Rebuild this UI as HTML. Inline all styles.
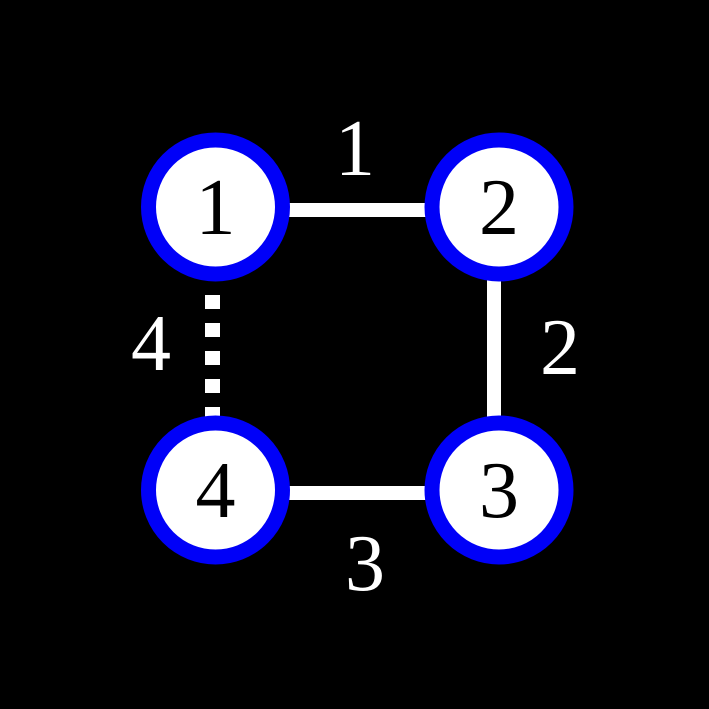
<!DOCTYPE html>
<html><head><meta charset="utf-8"><style>html,body{margin:0;padding:0;background:#000}svg{display:block}</style></head>
<body>
<svg width="709" height="709" viewBox="0 0 709 709">
<rect width="709" height="709" fill="#000"/>
<line x1="215" y1="210" x2="499" y2="210" stroke="#fff" stroke-width="14"/>
<line x1="494" y1="207" x2="494" y2="490" stroke="#fff" stroke-width="14"/>
<line x1="215" y1="493" x2="499" y2="493" stroke="#fff" stroke-width="14"/>
<line x1="212.5" y1="281" x2="212.5" y2="418" stroke="#fff" stroke-width="15" stroke-dasharray="14 14" stroke-dashoffset="14"/>
<g font-family="'Liberation Serif', serif" font-size="80" text-anchor="middle">
<g><circle cx="215.5" cy="207" r="67" fill="#fff" stroke="#0000f8" stroke-width="15"/><text x="215.5" y="234" fill="#000">1</text></g>
<g><circle cx="499" cy="207" r="67" fill="#fff" stroke="#0000f8" stroke-width="15"/><text x="499" y="234" fill="#000">2</text></g>
<g><circle cx="499" cy="490" r="67" fill="#fff" stroke="#0000f8" stroke-width="15"/><text x="499" y="517" fill="#000">3</text></g>
<g><circle cx="215.5" cy="490" r="67" fill="#fff" stroke="#0000f8" stroke-width="15"/><text x="215.5" y="517" fill="#000">4</text></g>
<text x="355" y="175" fill="#fff">1</text>
<text x="560" y="374" fill="#fff">2</text>
<text x="365" y="590" fill="#fff">3</text>
<text x="151" y="370" fill="#fff">4</text>
</g>
</svg>
</body></html>
